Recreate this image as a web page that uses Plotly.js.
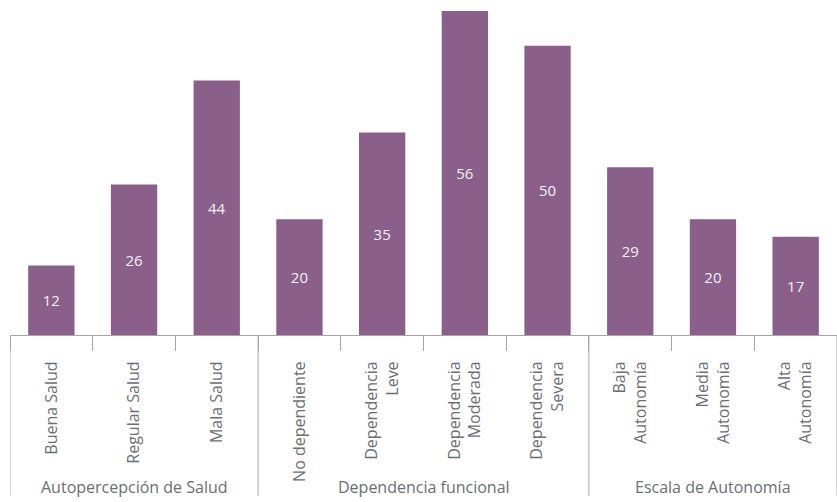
<!DOCTYPE html>
<html>
<head>
<meta charset="utf-8">
<script src="https://cdn.plot.ly/plotly-3.0.1.min.js"></script>
<style>html,body{margin:0;padding:0;background:#fff;}#chart{width:837px;height:502px;}</style>
</head>
<body>
<div id="chart"></div>
<script>
const categories = ["Buena Salud", "Regular Salud", "Mala Salud", "No dependiente", "Dependencia<br>Leve", "Dependencia<br>Moderada", "Dependencia<br>Severa", "Baja<br>Autonomía", "Media<br>Autonomía", "Alta<br>Autonomía"];
const values = [12, 26, 44, 20, 35, 56, 50, 29, 20, 17];
const groups = ["Autopercepción de Salud", "Dependencia funcional", "Escala de Autonomía"];
const groupSizes = [3, 4, 3];

const FONT = "Open Sans, sans-serif";
const GREY = "#a6a6a6";

const trace = {
  type: "bar",
  x: categories,
  y: values,
  marker: {color: "#8a5f8a"},
  text: values.map(String),
  textposition: "inside",
  insidetextanchor: "middle",
  textangle: 0,
  textfont: {family: FONT, size: 15, color: "#f4f0f4"},
  hoverinfo: "skip"
};

const shapes = [];
const annotations = [];
let start = 0;
const boundaries = [-0.5];
groupSizes.forEach((n, i) => {
  const end = start + n;
  boundaries.push(end - 0.5);
  annotations.push({
    x: (start + end - 1) / 2, xref: "x",
    y: -0.455, yref: "paper",
    text: groups[i], showarrow: false,
    font: {family: FONT, size: 16, color: "#6b6e73"},
    xanchor: "center", yanchor: "middle"
  });
  start = end;
});
boundaries.forEach(b => {
  shapes.push({
    type: "line", xref: "x", yref: "paper",
    x0: b, x1: b, y0: 0, y1: -0.48,
    line: {color: GREY, width: 1}
  });
});

const layout = {
  width: 837, height: 502,
  margin: {l: 10, r: 0, t: 0, b: 167},
  paper_bgcolor: "#fff", plot_bgcolor: "#fff",
  bargap: 0.44,
  showlegend: false,
  xaxis: {
    type: "category",
    range: [-0.5, 9.5],
    tickangle: -90,
    ticks: "outside",
    tickson: "boundaries",
    ticklen: 15,
    tickcolor: GREY,
    tickwidth: 1,
    ticklabelstandoff: 19,
    showline: true,
    linecolor: GREY,
    linewidth: 1,
    showgrid: false,
    tickfont: {family: FONT, size: 16, color: "#6b6e73"},
    fixedrange: true
  },
  yaxis: {
    range: [0, 57.9],
    visible: false,
    showgrid: false,
    zeroline: false,
    fixedrange: true
  },
  shapes: shapes,
  annotations: annotations
};

Plotly.newPlot("chart", [trace], layout, {displayModeBar: false, staticPlot: true});
</script>
</body>
</html>
